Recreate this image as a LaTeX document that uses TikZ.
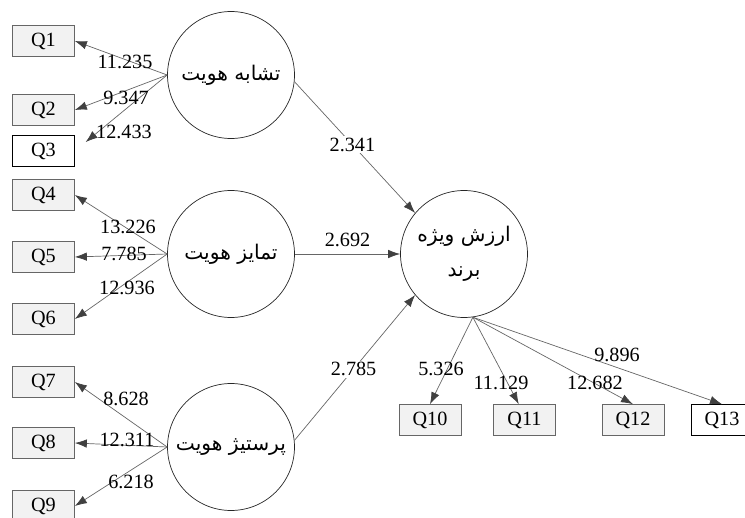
\documentclass[tikz,border=0pt]{standalone}
\usepackage{fontspec}
\setmainfont{Liberation Serif}
\newfontfamily\arabicfont[Script=Arabic]{DejaVu Sans}
\TeXXeTstate=1
\usetikzlibrary{arrows.meta}

\begin{document}
\begin{tikzpicture}[x=0.02cm, y=-0.02cm,
    font=\fontsize{11.5}{13}\selectfont,
    itemBox/.style={draw=black!60, fill=black!5, minimum width=1.24cm, minimum height=0.62cm, inner sep=0pt},
    plainBox/.style={itemBox, draw=black, fill=white},
    latentVar/.style={circle, draw=black!85, minimum size=2.54cm, inner sep=0pt, align=center, font=\arabicfont\fontsize{11.5}{20}\selectfont},
    pathArrow/.style={draw=black!60, -{Latex[length=0.24cm, width=0.17cm, color=black!75]}},
    pathLabel/.style={fill=white, inner sep=1pt}]
\useasboundingbox (0,0) rectangle (745,518);

% latent variables
\node[latentVar] (identSim) at (231,75) {\beginR تشابه هویت\endR};
\node[latentVar] (identDist) at (231,254) {\beginR تمایز هویت\endR};
\node[latentVar] (identPres) at (231,447) {\beginR پرستیژ هویت\endR};
\node[latentVar] (brandEq) at (464,254) {\beginR ارزش ویژه\endR\\\beginR برند\endR};

% indicators
\node[itemBox] (q1) at (43.5,41) {Q1};
\node[itemBox] (q2) at (43.5,110) {Q2};
\node[plainBox] (q3) at (43.5,151) {Q3};
\node[itemBox] (q4) at (43.5,195) {Q4};
\node[itemBox] (q5) at (43.5,257) {Q5};
\node[itemBox] (q6) at (43.5,319) {Q6};
\node[itemBox] (q7) at (43.5,382) {Q7};
\node[itemBox] (q8) at (43.5,443) {Q8};
\node[itemBox] (q9) at (43.5,506) {Q9};
\node[itemBox] (q10) at (430,420) {Q10};
\node[itemBox] (q11) at (524.5,420) {Q11};
\node[itemBox] (q12) at (633,420) {Q12};
\node[plainBox] (q13) at (722,420) {Q13};

% loadings
\draw[pathArrow] (identSim.west) -- (q1.east);
\draw[pathArrow] (identSim.west) -- (q2.east);
\draw[pathArrow, shorten >=0.28cm] (identSim.west) -- (q3.east);
\draw[pathArrow] (identDist.west) -- (q4.east);
\draw[pathArrow] (identDist.west) -- (q5.east);
\draw[pathArrow] (identDist.west) -- (q6.east);
\draw[pathArrow] (identPres.west) -- (q7.east);
\draw[pathArrow] (identPres.west) -- (q8.east);
\draw[pathArrow] (identPres.west) -- (q9.east);
\draw[pathArrow] (brandEq.-82) -- (q10.north);
\draw[pathArrow] (brandEq.-82) -- (q11.110);
\draw[pathArrow] (brandEq.-82) -- (q12.north);
\draw[pathArrow] (brandEq.-82) -- (q13.north);

\node at (125,62) {11.235};
\node at (126,98) {9.347};
\node at (124,132) {12.433};
\node at (128,227) {13.226};
\node at (124,254) {7.785};
\node at (127,288) {12.936};
\node at (126,399) {8.628};
\node at (127,440) {12.311};
\node at (131,482) {6.218};
\node at (441,369) {5.326};
\node at (501,383) {11.129};
\node at (595,383) {12.682};
\node at (617,355) {9.896};

% structural paths
\draw[pathArrow] (identSim.-6) -- node[pathLabel, pos=0.48] {2.341} (brandEq.140);
\draw[pathArrow] (identDist.east) -- node[pathLabel, pos=0.5, yshift=0.28cm] {2.692} (brandEq.west);
\draw[pathArrow] (identPres.6) -- node[pathLabel, pos=0.49] {2.785} (brandEq.220);

\end{tikzpicture}
\end{document}
